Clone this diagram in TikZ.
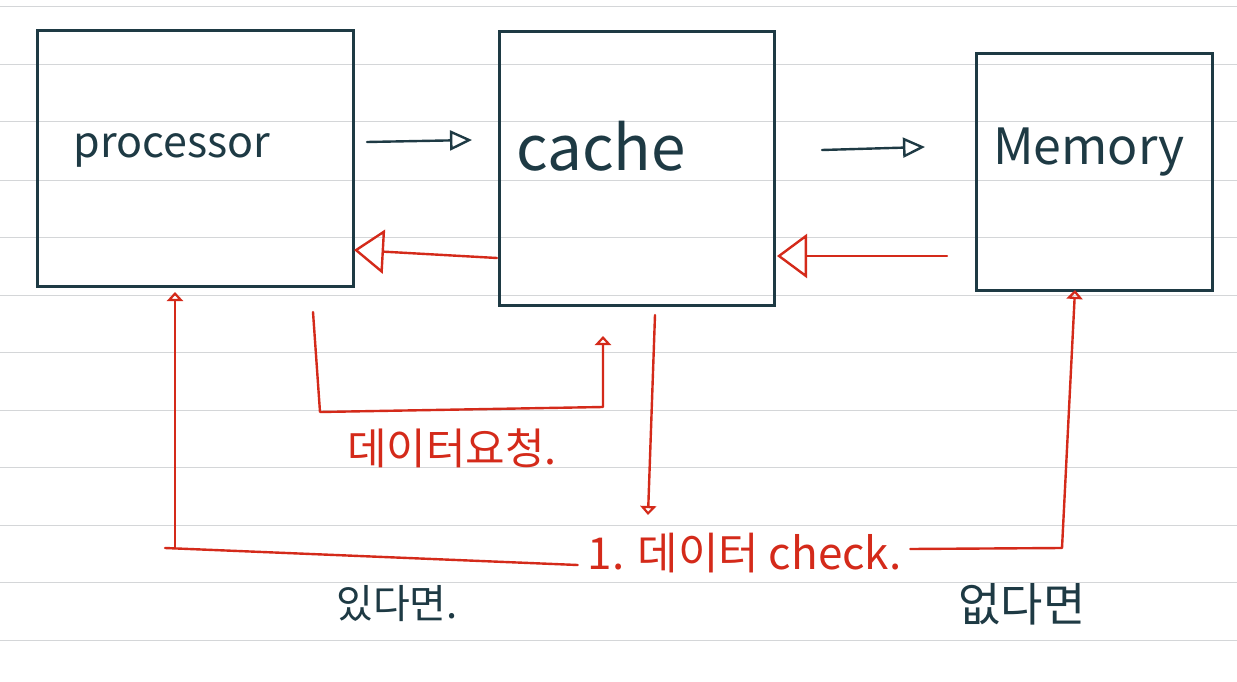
\documentclass[tikz,border=0pt]{standalone}
\usepackage{fontspec}
\newfontfamily\kr{Noto Sans CJK KR}
\usetikzlibrary{arrows.meta}
\definecolor{ink}{HTML}{1E3A44}
\definecolor{pen}{HTML}{D42A1A}
\definecolor{rule}{HTML}{D4D6D8}
\tikzset{
  box/.style={draw=ink, line width=2.6pt, anchor=north west, inner sep=0pt},
  lbl/.style={text=ink, font=\kr\fontsize{40}{44}\selectfont, inner sep=0pt},
  rlbl/.style={text=pen, font=\kr\fontsize{36}{40}\selectfont, inner sep=0pt},
  blk/.style={draw=ink, line width=2.4pt, line cap=round, -{Triangle[open,length=22pt,width=20pt,line width=2.4pt]}},
  bigred/.style={draw=pen, line width=2.4pt, line cap=round, -{Triangle[open,length=30pt,width=44pt,line width=2.4pt]}},
  smallred/.style={draw=pen, line width=2.4pt, line cap=round, line join=round, -{Triangle[open,length=9pt,width=16pt,line width=2.2pt]}},
  redline/.style={draw=pen, line width=2.4pt, line cap=round, line join=round}
}
\begin{document}
\begin{tikzpicture}[x=1pt,y=-1pt]
\useasboundingbox (0,0) rectangle (1237,682);
\fill[white] (0,0) rectangle (1237,682);
% ruled paper
\foreach \yy in {7,65,122,180,237,295,352,410,467,525,582,640}
  \draw[rule, line width=1pt] (0,\yy) -- (1237,\yy);
% boxes
\node[box, minimum width=316pt, minimum height=256pt] (proc) at (36,29) {};
\node[box, minimum width=275pt, minimum height=274pt] (cache) at (498,30) {};
\node[box, minimum width=236pt, minimum height=237pt] (mem) at (975,52) {};
% box labels
\node[lbl, font=\kr\fontsize{43}{46}\selectfont] (ptxt) at (172,150) {processor};
\node[lbl, font=\kr\fontsize{62}{66}\selectfont] (ctxt) at (601,146) {cache};
\node[lbl, font=\kr\fontsize{50}{54}\selectfont] (mtxt) at (1089,152) {Memory};
% black arrows
\coordinate (a1) at (367,142); \coordinate (a2) at (472,140);
\draw[blk] (a1) -- (a2);
\coordinate (b1) at (822,150); \coordinate (b2) at (925,147);
\draw[blk] (b1) -- (b2);
% red return arrows
\coordinate (c1) at (497,258); \coordinate (c2) at (354,250);
\draw[bigred] (c1) -- (c2);
\coordinate (d1) at (947,256); \coordinate (d2) at (777,256);
\draw[bigred] (d1) -- (d2);
% data request bracket
\coordinate (e1) at (313,312); \coordinate (e2) at (320,412); \coordinate (e3) at (603,407); \coordinate (e4) at (603,336);
\draw[smallred] (e1) -- (e2) -- (e3) -- (e4);
\node[rlbl, font=\kr\fontsize{43}{46}\selectfont] (req) at (452,448) {데이터요청.};
% cache down to check
\coordinate (f1) at (655,315); \coordinate (f2) at (648,515);
\draw[smallred] (f1) -- (f2);
\node[rlbl, font=\kr\fontsize{44}{48}\selectfont] (chk) at (745,553) {1. 데이터 check.};
% left: found -> processor
\coordinate (g2) at (165,548); \coordinate (g3) at (175,548); \coordinate (g4) at (175,292);
\draw[redline] (chk.west) ++(-10,12) -- (g2);
\draw[smallred] (g3) -- (g4);
% right: not found -> memory
\coordinate (h2) at (1062,548); \coordinate (h3) at (1075,290);
\draw[smallred] (chk.east) ++(8,-4) -- (h2) -- (h3);
% labels
\node[lbl, font=\kr\fontsize{40}{44}\selectfont] (yes) at (397,604) {있다면.};
\node[lbl, font=\kr\fontsize{46}{50}\selectfont] (no) at (1022,604) {없다면};
\end{tikzpicture}
\end{document}
